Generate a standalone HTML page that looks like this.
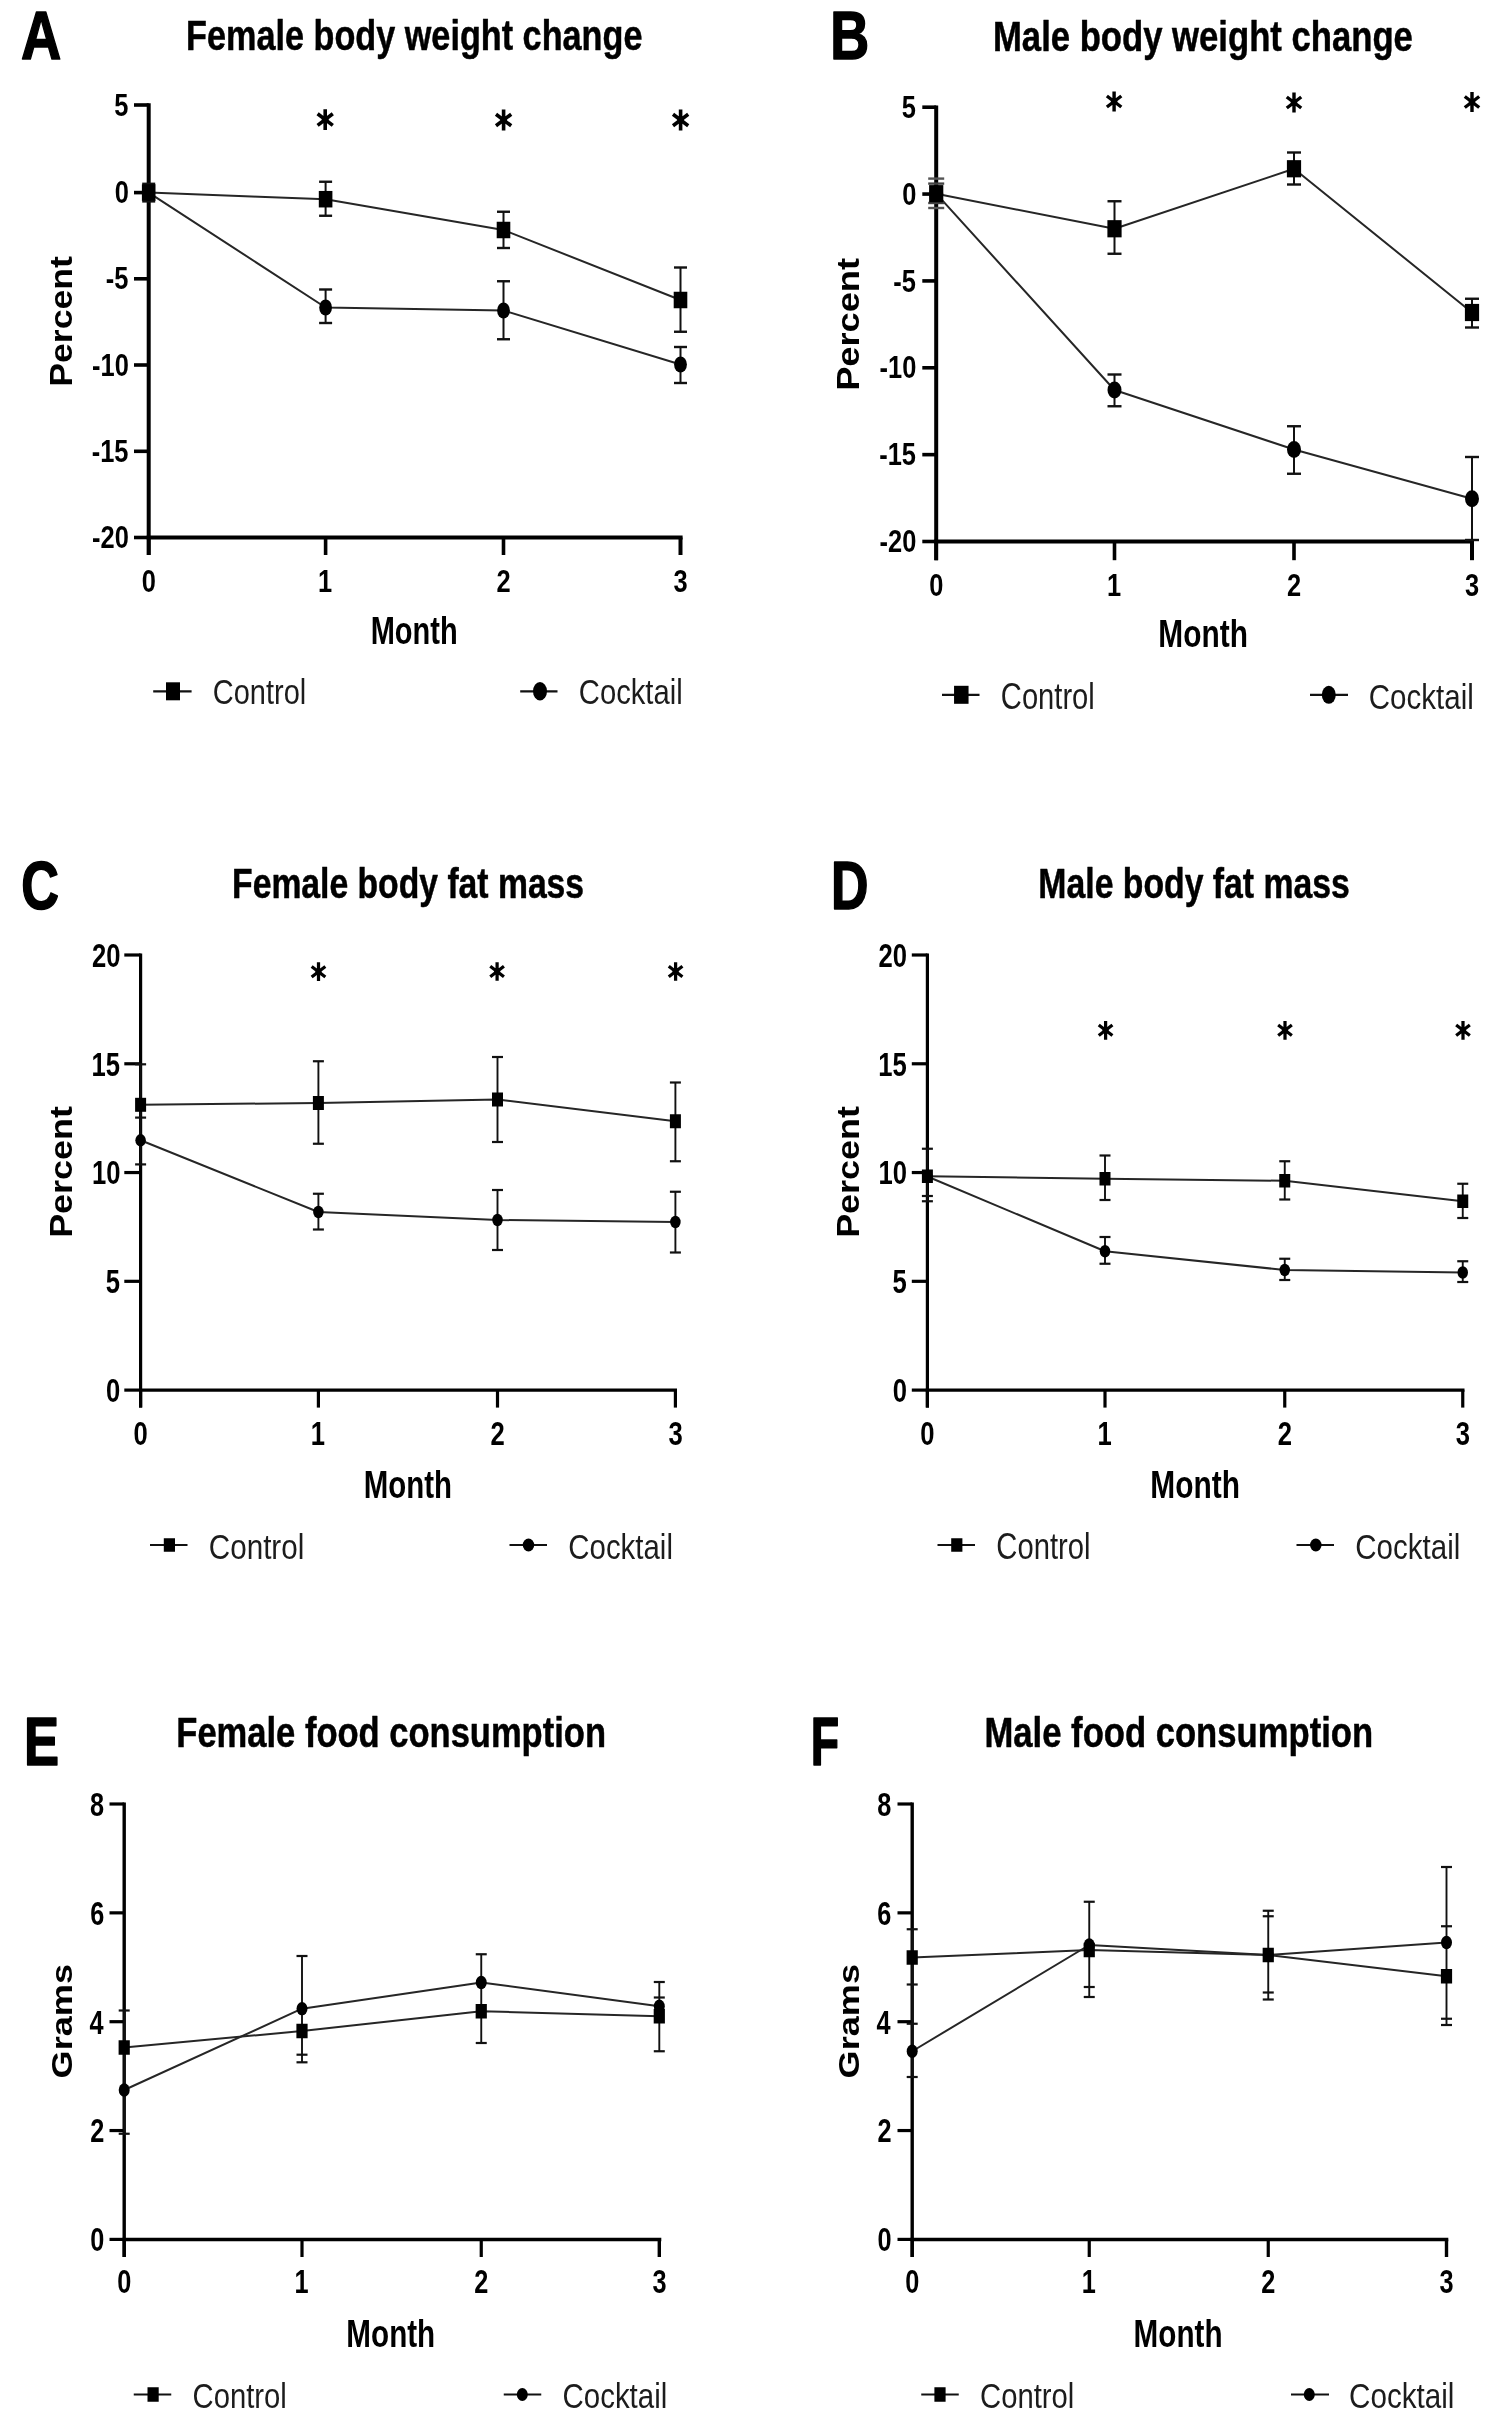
<!DOCTYPE html>
<html><head><meta charset="utf-8"><title>Body weight, fat mass and food consumption</title>
<style>
html,body{margin:0;padding:0;background:#fff;}
svg{display:block;filter:blur(0.55px);}
text{font-family:"Liberation Sans",sans-serif;}
</style></head>
<body>
<svg width="1499" height="2432" viewBox="0 0 1499 2432">
<rect width="1499" height="2432" fill="#fff"/>
<line x1="148.70" y1="103.30" x2="148.70" y2="555.00" stroke="#000" stroke-width="4.0" stroke-linecap="butt"/>
<line x1="146.70" y1="537.50" x2="682.60" y2="537.50" stroke="#000" stroke-width="4.0" stroke-linecap="butt"/>
<line x1="134.00" y1="105.00" x2="148.70" y2="105.00" stroke="#000" stroke-width="3.6" stroke-linecap="butt"/>
<line x1="134.00" y1="192.60" x2="148.70" y2="192.60" stroke="#000" stroke-width="3.6" stroke-linecap="butt"/>
<line x1="134.00" y1="278.80" x2="148.70" y2="278.80" stroke="#000" stroke-width="3.6" stroke-linecap="butt"/>
<line x1="134.00" y1="365.00" x2="148.70" y2="365.00" stroke="#000" stroke-width="3.6" stroke-linecap="butt"/>
<line x1="134.00" y1="451.30" x2="148.70" y2="451.30" stroke="#000" stroke-width="3.6" stroke-linecap="butt"/>
<line x1="134.00" y1="537.50" x2="148.70" y2="537.50" stroke="#000" stroke-width="3.6" stroke-linecap="butt"/>
<line x1="148.70" y1="537.50" x2="148.70" y2="555.00" stroke="#000" stroke-width="3.6" stroke-linecap="butt"/>
<line x1="325.60" y1="537.50" x2="325.60" y2="555.00" stroke="#000" stroke-width="3.6" stroke-linecap="butt"/>
<line x1="503.50" y1="537.50" x2="503.50" y2="555.00" stroke="#000" stroke-width="3.6" stroke-linecap="butt"/>
<line x1="680.50" y1="537.50" x2="680.50" y2="555.00" stroke="#000" stroke-width="4.0" stroke-linecap="butt"/>
<text transform="translate(114.32,115.60) scale(0.7950,1)" font-size="32.00" font-weight="bold" fill="#000">5</text>
<text transform="translate(114.70,203.20) scale(0.7950,1)" font-size="32.00" font-weight="bold" fill="#000">0</text>
<text transform="translate(105.79,289.40) scale(0.7950,1)" font-size="32.00" font-weight="bold" fill="#000">-5</text>
<text transform="translate(92.06,375.60) scale(0.7950,1)" font-size="32.00" font-weight="bold" fill="#000">-10</text>
<text transform="translate(91.68,461.90) scale(0.7950,1)" font-size="32.00" font-weight="bold" fill="#000">-15</text>
<text transform="translate(92.06,548.10) scale(0.7950,1)" font-size="32.00" font-weight="bold" fill="#000">-20</text>
<text transform="translate(141.64,592.30) scale(0.7950,1)" font-size="32.00" font-weight="bold" fill="#000">0</text>
<text transform="translate(318.10,592.30) scale(0.7950,1)" font-size="32.00" font-weight="bold" fill="#000">1</text>
<text transform="translate(496.50,592.30) scale(0.7950,1)" font-size="32.00" font-weight="bold" fill="#000">2</text>
<text transform="translate(673.57,592.30) scale(0.7950,1)" font-size="32.00" font-weight="bold" fill="#000">3</text>
<polyline points="148.70,192.60 325.60,199.20 503.50,230.00 680.50,300.00" fill="none" stroke="#262626" stroke-width="2.0" stroke-linejoin="round"/>
<polyline points="148.70,192.60 325.60,307.50 503.50,310.50 680.50,364.50" fill="none" stroke="#262626" stroke-width="2.0" stroke-linejoin="round"/>
<line x1="325.60" y1="181.75" x2="325.60" y2="215.75" stroke="#111" stroke-width="2.0" stroke-linecap="butt"/>
<line x1="325.60" y1="289.50" x2="325.60" y2="323.00" stroke="#111" stroke-width="2.0" stroke-linecap="butt"/>
<line x1="503.50" y1="211.75" x2="503.50" y2="248.00" stroke="#111" stroke-width="2.0" stroke-linecap="butt"/>
<line x1="503.50" y1="281.25" x2="503.50" y2="339.25" stroke="#111" stroke-width="2.0" stroke-linecap="butt"/>
<line x1="680.50" y1="267.50" x2="680.50" y2="331.75" stroke="#111" stroke-width="2.0" stroke-linecap="butt"/>
<line x1="680.50" y1="347.00" x2="680.50" y2="383.00" stroke="#111" stroke-width="2.0" stroke-linecap="butt"/>
<line x1="319.10" y1="181.75" x2="332.10" y2="181.75" stroke="#111" stroke-width="2.4" stroke-linecap="butt"/>
<line x1="319.10" y1="215.75" x2="332.10" y2="215.75" stroke="#111" stroke-width="2.4" stroke-linecap="butt"/>
<line x1="319.10" y1="289.50" x2="332.10" y2="289.50" stroke="#111" stroke-width="2.4" stroke-linecap="butt"/>
<line x1="319.10" y1="323.00" x2="332.10" y2="323.00" stroke="#111" stroke-width="2.4" stroke-linecap="butt"/>
<line x1="497.00" y1="211.75" x2="510.00" y2="211.75" stroke="#111" stroke-width="2.4" stroke-linecap="butt"/>
<line x1="497.00" y1="248.00" x2="510.00" y2="248.00" stroke="#111" stroke-width="2.4" stroke-linecap="butt"/>
<line x1="497.00" y1="281.25" x2="510.00" y2="281.25" stroke="#111" stroke-width="2.4" stroke-linecap="butt"/>
<line x1="497.00" y1="339.25" x2="510.00" y2="339.25" stroke="#111" stroke-width="2.4" stroke-linecap="butt"/>
<line x1="674.00" y1="267.50" x2="687.00" y2="267.50" stroke="#111" stroke-width="2.4" stroke-linecap="butt"/>
<line x1="674.00" y1="331.75" x2="687.00" y2="331.75" stroke="#111" stroke-width="2.4" stroke-linecap="butt"/>
<line x1="674.00" y1="347.00" x2="687.00" y2="347.00" stroke="#111" stroke-width="2.4" stroke-linecap="butt"/>
<line x1="674.00" y1="383.00" x2="687.00" y2="383.00" stroke="#111" stroke-width="2.4" stroke-linecap="butt"/>
<line x1="142.20" y1="183.80" x2="155.20" y2="183.80" stroke="#111" stroke-width="2.4" stroke-linecap="butt"/>
<line x1="142.20" y1="201.40" x2="155.20" y2="201.40" stroke="#111" stroke-width="2.4" stroke-linecap="butt"/>
<ellipse cx="148.70" cy="192.60" rx="6.40" ry="8.00" fill="#000"/>
<ellipse cx="325.60" cy="307.50" rx="6.40" ry="8.00" fill="#000"/>
<ellipse cx="503.50" cy="310.50" rx="6.40" ry="8.00" fill="#000"/>
<ellipse cx="680.50" cy="364.50" rx="6.40" ry="8.00" fill="#000"/>
<rect x="141.90" y="184.35" width="13.60" height="16.50" fill="#000"/>
<rect x="318.80" y="190.95" width="13.60" height="16.50" fill="#000"/>
<rect x="496.70" y="221.75" width="13.60" height="16.50" fill="#000"/>
<rect x="673.70" y="291.75" width="13.60" height="16.50" fill="#000"/>
<path d="M325.20,109.20V130.00M317.60,113.80L332.80,125.40M317.60,125.40L332.80,113.80" stroke="#000" stroke-width="3.60" fill="none"/>
<circle cx="325.20" cy="119.60" r="3.40" fill="#000"/>
<path d="M503.60,109.60V130.40M496.00,114.20L511.20,125.80M496.00,125.80L511.20,114.20" stroke="#000" stroke-width="3.60" fill="none"/>
<circle cx="503.60" cy="120.00" r="3.40" fill="#000"/>
<path d="M680.60,109.60V130.40M673.00,114.20L688.20,125.80M673.00,125.80L688.20,114.20" stroke="#000" stroke-width="3.60" fill="none"/>
<circle cx="680.60" cy="120.00" r="3.40" fill="#000"/>
<text transform="translate(186.03,50.00) scale(0.8054,1)" font-size="42.50" font-weight="bold" fill="#000" stroke="#000" stroke-width="0.5" stroke-linejoin="round">Female body weight change</text>
<text transform="translate(20.90,58.70) scale(0.8041,1)" font-size="69.42" font-weight="bold" fill="#000" stroke="#000" stroke-width="1.6" stroke-linejoin="round">A</text>
<text transform="translate(71.69,386.82) rotate(-90) scale(1.1608,1)" font-size="30.71" font-weight="bold" fill="#000">Percent</text>
<text transform="translate(370.71,644.30) scale(0.7634,1)" font-size="38.00" font-weight="bold" fill="#000">Month</text>
<line x1="153.20" y1="691.30" x2="191.60" y2="691.30" stroke="#111" stroke-width="2.3" stroke-linecap="butt"/>
<rect x="166.00" y="682.30" width="14.00" height="18.00" fill="#000"/>
<text transform="translate(212.85,703.90) scale(0.8043,1)" font-size="36.00" font-weight="normal" fill="#1c1c1c">Control</text>
<line x1="520.20" y1="691.30" x2="557.50" y2="691.30" stroke="#111" stroke-width="2.3" stroke-linecap="butt"/>
<ellipse cx="540.00" cy="691.30" rx="7.00" ry="9.25" fill="#000"/>
<text transform="translate(578.84,703.90) scale(0.8115,1)" font-size="36.00" font-weight="normal" fill="#1c1c1c">Cocktail</text>
<line x1="936.20" y1="105.40" x2="936.20" y2="560.20" stroke="#000" stroke-width="4.0" stroke-linecap="butt"/>
<line x1="934.20" y1="541.50" x2="1474.00" y2="541.50" stroke="#000" stroke-width="4.0" stroke-linecap="butt"/>
<line x1="922.30" y1="107.20" x2="936.20" y2="107.20" stroke="#000" stroke-width="3.6" stroke-linecap="butt"/>
<line x1="922.30" y1="194.06" x2="936.20" y2="194.06" stroke="#000" stroke-width="3.6" stroke-linecap="butt"/>
<line x1="922.30" y1="280.92" x2="936.20" y2="280.92" stroke="#000" stroke-width="3.6" stroke-linecap="butt"/>
<line x1="922.30" y1="367.78" x2="936.20" y2="367.78" stroke="#000" stroke-width="3.6" stroke-linecap="butt"/>
<line x1="922.30" y1="454.64" x2="936.20" y2="454.64" stroke="#000" stroke-width="3.6" stroke-linecap="butt"/>
<line x1="922.30" y1="541.50" x2="936.20" y2="541.50" stroke="#000" stroke-width="3.6" stroke-linecap="butt"/>
<line x1="936.20" y1="541.50" x2="936.20" y2="560.20" stroke="#000" stroke-width="3.6" stroke-linecap="butt"/>
<line x1="1114.50" y1="541.50" x2="1114.50" y2="560.20" stroke="#000" stroke-width="3.6" stroke-linecap="butt"/>
<line x1="1294.00" y1="541.50" x2="1294.00" y2="560.20" stroke="#000" stroke-width="3.6" stroke-linecap="butt"/>
<line x1="1472.00" y1="541.50" x2="1472.00" y2="560.20" stroke="#000" stroke-width="4.0" stroke-linecap="butt"/>
<text transform="translate(901.82,117.90) scale(0.7950,1)" font-size="32.00" font-weight="bold" fill="#000">5</text>
<text transform="translate(902.20,204.76) scale(0.7950,1)" font-size="32.00" font-weight="bold" fill="#000">0</text>
<text transform="translate(893.29,291.62) scale(0.7950,1)" font-size="32.00" font-weight="bold" fill="#000">-5</text>
<text transform="translate(879.56,378.48) scale(0.7950,1)" font-size="32.00" font-weight="bold" fill="#000">-10</text>
<text transform="translate(879.18,465.34) scale(0.7950,1)" font-size="32.00" font-weight="bold" fill="#000">-15</text>
<text transform="translate(879.56,552.20) scale(0.7950,1)" font-size="32.00" font-weight="bold" fill="#000">-20</text>
<text transform="translate(929.14,596.00) scale(0.7950,1)" font-size="32.00" font-weight="bold" fill="#000">0</text>
<text transform="translate(1107.00,596.00) scale(0.7950,1)" font-size="32.00" font-weight="bold" fill="#000">1</text>
<text transform="translate(1287.00,596.00) scale(0.7950,1)" font-size="32.00" font-weight="bold" fill="#000">2</text>
<text transform="translate(1465.07,596.00) scale(0.7950,1)" font-size="32.00" font-weight="bold" fill="#000">3</text>
<polyline points="936.20,193.70 1114.50,228.75 1294.00,168.75 1472.00,312.50" fill="none" stroke="#262626" stroke-width="2.0" stroke-linejoin="round"/>
<polyline points="936.20,193.70 1114.50,390.00 1294.00,449.50 1472.00,498.75" fill="none" stroke="#262626" stroke-width="2.0" stroke-linejoin="round"/>
<line x1="1114.50" y1="201.25" x2="1114.50" y2="253.75" stroke="#111" stroke-width="2.0" stroke-linecap="butt"/>
<line x1="1114.50" y1="374.50" x2="1114.50" y2="406.25" stroke="#111" stroke-width="2.0" stroke-linecap="butt"/>
<line x1="1294.00" y1="152.50" x2="1294.00" y2="184.50" stroke="#111" stroke-width="2.0" stroke-linecap="butt"/>
<line x1="1294.00" y1="426.25" x2="1294.00" y2="473.75" stroke="#111" stroke-width="2.0" stroke-linecap="butt"/>
<line x1="1472.00" y1="298.75" x2="1472.00" y2="327.50" stroke="#111" stroke-width="2.0" stroke-linecap="butt"/>
<line x1="1472.00" y1="457.00" x2="1472.00" y2="540.00" stroke="#111" stroke-width="2.0" stroke-linecap="butt"/>
<line x1="1107.50" y1="201.25" x2="1121.50" y2="201.25" stroke="#111" stroke-width="2.4" stroke-linecap="butt"/>
<line x1="1107.50" y1="253.75" x2="1121.50" y2="253.75" stroke="#111" stroke-width="2.4" stroke-linecap="butt"/>
<line x1="1107.50" y1="374.50" x2="1121.50" y2="374.50" stroke="#111" stroke-width="2.4" stroke-linecap="butt"/>
<line x1="1107.50" y1="406.25" x2="1121.50" y2="406.25" stroke="#111" stroke-width="2.4" stroke-linecap="butt"/>
<line x1="1287.00" y1="152.50" x2="1301.00" y2="152.50" stroke="#111" stroke-width="2.4" stroke-linecap="butt"/>
<line x1="1287.00" y1="184.50" x2="1301.00" y2="184.50" stroke="#111" stroke-width="2.4" stroke-linecap="butt"/>
<line x1="1287.00" y1="426.25" x2="1301.00" y2="426.25" stroke="#111" stroke-width="2.4" stroke-linecap="butt"/>
<line x1="1287.00" y1="473.75" x2="1301.00" y2="473.75" stroke="#111" stroke-width="2.4" stroke-linecap="butt"/>
<line x1="1465.00" y1="298.75" x2="1479.00" y2="298.75" stroke="#111" stroke-width="2.4" stroke-linecap="butt"/>
<line x1="1465.00" y1="327.50" x2="1479.00" y2="327.50" stroke="#111" stroke-width="2.4" stroke-linecap="butt"/>
<line x1="1465.00" y1="457.00" x2="1479.00" y2="457.00" stroke="#111" stroke-width="2.4" stroke-linecap="butt"/>
<line x1="1465.00" y1="540.00" x2="1479.00" y2="540.00" stroke="#111" stroke-width="2.4" stroke-linecap="butt"/>
<line x1="928.20" y1="178.60" x2="944.20" y2="178.60" stroke="#555" stroke-width="2.4" stroke-linecap="butt"/>
<line x1="928.20" y1="183.60" x2="944.20" y2="183.60" stroke="#444" stroke-width="2.4" stroke-linecap="butt"/>
<line x1="928.20" y1="203.00" x2="944.20" y2="203.00" stroke="#444" stroke-width="2.4" stroke-linecap="butt"/>
<line x1="928.20" y1="208.00" x2="944.20" y2="208.00" stroke="#555" stroke-width="2.4" stroke-linecap="butt"/>
<ellipse cx="936.20" cy="193.70" rx="7.00" ry="8.40" fill="#000"/>
<ellipse cx="1114.50" cy="390.00" rx="7.00" ry="8.40" fill="#000"/>
<ellipse cx="1294.00" cy="449.50" rx="7.00" ry="8.40" fill="#000"/>
<ellipse cx="1472.00" cy="498.75" rx="7.00" ry="8.40" fill="#000"/>
<rect x="929.10" y="185.10" width="14.20" height="17.20" fill="#000"/>
<rect x="1107.40" y="220.15" width="14.20" height="17.20" fill="#000"/>
<rect x="1286.90" y="160.15" width="14.20" height="17.20" fill="#000"/>
<rect x="1464.90" y="303.90" width="14.20" height="17.20" fill="#000"/>
<path d="M1114.10,91.62V111.38M1106.88,95.99L1121.32,107.01M1106.88,107.01L1121.32,95.99" stroke="#000" stroke-width="3.42" fill="none"/>
<circle cx="1114.10" cy="101.50" r="3.23" fill="#000"/>
<path d="M1294.00,92.62V112.38M1286.78,96.99L1301.22,108.01M1286.78,108.01L1301.22,96.99" stroke="#000" stroke-width="3.42" fill="none"/>
<circle cx="1294.00" cy="102.50" r="3.23" fill="#000"/>
<path d="M1472.00,92.12V111.88M1464.78,96.49L1479.22,107.51M1464.78,107.51L1479.22,96.49" stroke="#000" stroke-width="3.42" fill="none"/>
<circle cx="1472.00" cy="102.00" r="3.23" fill="#000"/>
<text transform="translate(993.00,50.70) scale(0.8160,1)" font-size="42.50" font-weight="bold" fill="#000" stroke="#000" stroke-width="0.5" stroke-linejoin="round">Male body weight change</text>
<text transform="translate(830.29,58.70) scale(0.7769,1)" font-size="69.42" font-weight="bold" fill="#000" stroke="#000" stroke-width="1.6" stroke-linejoin="round">B</text>
<text transform="translate(859.00,390.85) rotate(-90) scale(1.1901,1)" font-size="30.43" font-weight="bold" fill="#000">Percent</text>
<text transform="translate(1158.36,647.20) scale(0.7863,1)" font-size="38.00" font-weight="bold" fill="#000">Month</text>
<line x1="942.00" y1="694.80" x2="979.50" y2="694.80" stroke="#111" stroke-width="2.3" stroke-linecap="butt"/>
<rect x="954.05" y="685.80" width="14.50" height="18.00" fill="#000"/>
<text transform="translate(1000.84,708.50) scale(0.8096,1)" font-size="36.00" font-weight="normal" fill="#1c1c1c">Control</text>
<line x1="1310.00" y1="694.80" x2="1348.00" y2="694.80" stroke="#111" stroke-width="2.3" stroke-linecap="butt"/>
<ellipse cx="1328.80" cy="694.80" rx="7.00" ry="9.00" fill="#000"/>
<text transform="translate(1368.82,708.50) scale(0.8196,1)" font-size="36.00" font-weight="normal" fill="#1c1c1c">Cocktail</text>
<line x1="140.60" y1="953.40" x2="140.60" y2="1407.60" stroke="#000" stroke-width="3.2" stroke-linecap="butt"/>
<line x1="139.00" y1="1390.10" x2="677.00" y2="1390.10" stroke="#000" stroke-width="3.2" stroke-linecap="butt"/>
<line x1="124.30" y1="955.00" x2="140.60" y2="955.00" stroke="#000" stroke-width="3.2" stroke-linecap="butt"/>
<line x1="124.30" y1="1063.78" x2="140.60" y2="1063.78" stroke="#000" stroke-width="3.2" stroke-linecap="butt"/>
<line x1="124.30" y1="1172.55" x2="140.60" y2="1172.55" stroke="#000" stroke-width="3.2" stroke-linecap="butt"/>
<line x1="124.30" y1="1281.32" x2="140.60" y2="1281.32" stroke="#000" stroke-width="3.2" stroke-linecap="butt"/>
<line x1="124.30" y1="1390.10" x2="140.60" y2="1390.10" stroke="#000" stroke-width="3.2" stroke-linecap="butt"/>
<line x1="140.60" y1="1390.10" x2="140.60" y2="1407.60" stroke="#000" stroke-width="3.2" stroke-linecap="butt"/>
<line x1="318.40" y1="1390.10" x2="318.40" y2="1407.60" stroke="#000" stroke-width="3.2" stroke-linecap="butt"/>
<line x1="497.50" y1="1390.10" x2="497.50" y2="1407.60" stroke="#000" stroke-width="3.2" stroke-linecap="butt"/>
<line x1="675.40" y1="1390.10" x2="675.40" y2="1407.60" stroke="#000" stroke-width="3.2" stroke-linecap="butt"/>
<text transform="translate(91.90,966.90) scale(0.7760,1)" font-size="33.00" font-weight="bold" fill="#000">20</text>
<text transform="translate(91.52,1075.68) scale(0.7760,1)" font-size="33.00" font-weight="bold" fill="#000">15</text>
<text transform="translate(91.90,1184.45) scale(0.7760,1)" font-size="33.00" font-weight="bold" fill="#000">10</text>
<text transform="translate(105.73,1293.22) scale(0.7760,1)" font-size="33.00" font-weight="bold" fill="#000">5</text>
<text transform="translate(106.11,1402.00) scale(0.7760,1)" font-size="33.00" font-weight="bold" fill="#000">0</text>
<text transform="translate(133.49,1444.80) scale(0.7760,1)" font-size="33.00" font-weight="bold" fill="#000">0</text>
<text transform="translate(310.85,1444.80) scale(0.7760,1)" font-size="33.00" font-weight="bold" fill="#000">1</text>
<text transform="translate(490.46,1444.80) scale(0.7760,1)" font-size="33.00" font-weight="bold" fill="#000">2</text>
<text transform="translate(668.42,1444.80) scale(0.7760,1)" font-size="33.00" font-weight="bold" fill="#000">3</text>
<polyline points="140.60,1104.80 318.40,1103.00 497.50,1099.50 675.40,1121.25" fill="none" stroke="#262626" stroke-width="2.0" stroke-linejoin="round"/>
<polyline points="140.60,1140.30 318.40,1212.00 497.50,1220.00 675.40,1222.00" fill="none" stroke="#262626" stroke-width="2.0" stroke-linejoin="round"/>
<line x1="140.60" y1="1064.30" x2="140.60" y2="1164.40" stroke="#111" stroke-width="1.9" stroke-linecap="butt"/>
<line x1="318.40" y1="1061.25" x2="318.40" y2="1143.75" stroke="#111" stroke-width="1.9" stroke-linecap="butt"/>
<line x1="318.40" y1="1193.75" x2="318.40" y2="1229.50" stroke="#111" stroke-width="1.9" stroke-linecap="butt"/>
<line x1="497.50" y1="1057.00" x2="497.50" y2="1142.00" stroke="#111" stroke-width="1.9" stroke-linecap="butt"/>
<line x1="497.50" y1="1190.00" x2="497.50" y2="1250.00" stroke="#111" stroke-width="1.9" stroke-linecap="butt"/>
<line x1="675.40" y1="1082.50" x2="675.40" y2="1161.25" stroke="#111" stroke-width="1.9" stroke-linecap="butt"/>
<line x1="675.40" y1="1191.75" x2="675.40" y2="1252.50" stroke="#111" stroke-width="1.9" stroke-linecap="butt"/>
<line x1="135.10" y1="1064.30" x2="146.10" y2="1064.30" stroke="#111" stroke-width="2.2" stroke-linecap="butt"/>
<line x1="135.10" y1="1117.60" x2="146.10" y2="1117.60" stroke="#111" stroke-width="2.2" stroke-linecap="butt"/>
<line x1="135.10" y1="1164.40" x2="146.10" y2="1164.40" stroke="#111" stroke-width="2.2" stroke-linecap="butt"/>
<line x1="312.90" y1="1061.25" x2="323.90" y2="1061.25" stroke="#111" stroke-width="2.2" stroke-linecap="butt"/>
<line x1="312.90" y1="1143.75" x2="323.90" y2="1143.75" stroke="#111" stroke-width="2.2" stroke-linecap="butt"/>
<line x1="312.90" y1="1193.75" x2="323.90" y2="1193.75" stroke="#111" stroke-width="2.2" stroke-linecap="butt"/>
<line x1="312.90" y1="1229.50" x2="323.90" y2="1229.50" stroke="#111" stroke-width="2.2" stroke-linecap="butt"/>
<line x1="492.00" y1="1057.00" x2="503.00" y2="1057.00" stroke="#111" stroke-width="2.2" stroke-linecap="butt"/>
<line x1="492.00" y1="1142.00" x2="503.00" y2="1142.00" stroke="#111" stroke-width="2.2" stroke-linecap="butt"/>
<line x1="492.00" y1="1190.00" x2="503.00" y2="1190.00" stroke="#111" stroke-width="2.2" stroke-linecap="butt"/>
<line x1="492.00" y1="1250.00" x2="503.00" y2="1250.00" stroke="#111" stroke-width="2.2" stroke-linecap="butt"/>
<line x1="669.90" y1="1082.50" x2="680.90" y2="1082.50" stroke="#111" stroke-width="2.2" stroke-linecap="butt"/>
<line x1="669.90" y1="1161.25" x2="680.90" y2="1161.25" stroke="#111" stroke-width="2.2" stroke-linecap="butt"/>
<line x1="669.90" y1="1191.75" x2="680.90" y2="1191.75" stroke="#111" stroke-width="2.2" stroke-linecap="butt"/>
<line x1="669.90" y1="1252.50" x2="680.90" y2="1252.50" stroke="#111" stroke-width="2.2" stroke-linecap="butt"/>
<ellipse cx="140.60" cy="1140.30" rx="5.25" ry="6.25" fill="#000"/>
<ellipse cx="318.40" cy="1212.00" rx="5.25" ry="6.25" fill="#000"/>
<ellipse cx="497.50" cy="1220.00" rx="5.25" ry="6.25" fill="#000"/>
<ellipse cx="675.40" cy="1222.00" rx="5.25" ry="6.25" fill="#000"/>
<rect x="135.10" y="1097.80" width="11.00" height="14.00" fill="#000"/>
<rect x="312.90" y="1096.00" width="11.00" height="14.00" fill="#000"/>
<rect x="492.00" y="1092.50" width="11.00" height="14.00" fill="#000"/>
<rect x="669.90" y="1114.25" width="11.00" height="14.00" fill="#000"/>
<path d="M318.50,962.34V981.06M311.66,966.48L325.34,976.92M311.66,976.92L325.34,966.48" stroke="#000" stroke-width="3.24" fill="none"/>
<circle cx="318.50" cy="971.70" r="3.06" fill="#000"/>
<path d="M497.10,962.14V980.86M490.26,966.28L503.94,976.72M490.26,976.72L503.94,966.28" stroke="#000" stroke-width="3.24" fill="none"/>
<circle cx="497.10" cy="971.50" r="3.06" fill="#000"/>
<path d="M675.60,962.14V980.86M668.76,966.28L682.44,976.72M668.76,976.72L682.44,966.28" stroke="#000" stroke-width="3.24" fill="none"/>
<circle cx="675.60" cy="971.50" r="3.06" fill="#000"/>
<text transform="translate(232.06,898.00) scale(0.7930,1)" font-size="42.50" font-weight="bold" fill="#000" stroke="#000" stroke-width="0.5" stroke-linejoin="round">Female body fat mass</text>
<text transform="translate(21.21,909.31) scale(0.7535,1)" font-size="69.30" font-weight="bold" fill="#000" stroke="#000" stroke-width="1.6" stroke-linejoin="round">C</text>
<text transform="translate(71.69,1237.84) rotate(-90) scale(1.1699,1)" font-size="30.71" font-weight="bold" fill="#000">Percent</text>
<text transform="translate(363.69,1498.10) scale(0.7753,1)" font-size="38.00" font-weight="bold" fill="#000">Month</text>
<line x1="150.00" y1="1545.00" x2="187.50" y2="1545.00" stroke="#111" stroke-width="2.2" stroke-linecap="butt"/>
<rect x="163.80" y="1538.25" width="11.20" height="13.50" fill="#000"/>
<text transform="translate(208.82,1558.60) scale(0.8230,1)" font-size="36.00" font-weight="normal" fill="#1c1c1c">Control</text>
<line x1="509.50" y1="1545.00" x2="547.00" y2="1545.00" stroke="#111" stroke-width="2.2" stroke-linecap="butt"/>
<ellipse cx="528.50" cy="1545.00" rx="5.75" ry="6.50" fill="#000"/>
<text transform="translate(568.33,1558.60) scale(0.8172,1)" font-size="36.00" font-weight="normal" fill="#1c1c1c">Cocktail</text>
<line x1="927.40" y1="953.40" x2="927.40" y2="1407.60" stroke="#000" stroke-width="3.2" stroke-linecap="butt"/>
<line x1="925.80" y1="1390.10" x2="1464.50" y2="1390.10" stroke="#000" stroke-width="3.2" stroke-linecap="butt"/>
<line x1="911.80" y1="955.00" x2="927.40" y2="955.00" stroke="#000" stroke-width="3.2" stroke-linecap="butt"/>
<line x1="911.80" y1="1063.78" x2="927.40" y2="1063.78" stroke="#000" stroke-width="3.2" stroke-linecap="butt"/>
<line x1="911.80" y1="1172.55" x2="927.40" y2="1172.55" stroke="#000" stroke-width="3.2" stroke-linecap="butt"/>
<line x1="911.80" y1="1281.32" x2="927.40" y2="1281.32" stroke="#000" stroke-width="3.2" stroke-linecap="butt"/>
<line x1="911.80" y1="1390.10" x2="927.40" y2="1390.10" stroke="#000" stroke-width="3.2" stroke-linecap="butt"/>
<line x1="927.40" y1="1390.10" x2="927.40" y2="1407.60" stroke="#000" stroke-width="3.2" stroke-linecap="butt"/>
<line x1="1105.00" y1="1390.10" x2="1105.00" y2="1407.60" stroke="#000" stroke-width="3.2" stroke-linecap="butt"/>
<line x1="1284.75" y1="1390.10" x2="1284.75" y2="1407.60" stroke="#000" stroke-width="3.2" stroke-linecap="butt"/>
<line x1="1462.75" y1="1390.10" x2="1462.75" y2="1407.60" stroke="#000" stroke-width="3.2" stroke-linecap="butt"/>
<text transform="translate(878.60,966.90) scale(0.7760,1)" font-size="33.00" font-weight="bold" fill="#000">20</text>
<text transform="translate(878.22,1075.68) scale(0.7760,1)" font-size="33.00" font-weight="bold" fill="#000">15</text>
<text transform="translate(878.60,1184.45) scale(0.7760,1)" font-size="33.00" font-weight="bold" fill="#000">10</text>
<text transform="translate(892.43,1293.22) scale(0.7760,1)" font-size="33.00" font-weight="bold" fill="#000">5</text>
<text transform="translate(892.81,1402.00) scale(0.7760,1)" font-size="33.00" font-weight="bold" fill="#000">0</text>
<text transform="translate(920.29,1444.80) scale(0.7760,1)" font-size="33.00" font-weight="bold" fill="#000">0</text>
<text transform="translate(1097.45,1444.80) scale(0.7760,1)" font-size="33.00" font-weight="bold" fill="#000">1</text>
<text transform="translate(1277.71,1444.80) scale(0.7760,1)" font-size="33.00" font-weight="bold" fill="#000">2</text>
<text transform="translate(1455.77,1444.80) scale(0.7760,1)" font-size="33.00" font-weight="bold" fill="#000">3</text>
<polyline points="927.40,1176.25 1105.00,1178.75 1284.75,1180.75 1462.75,1201.25" fill="none" stroke="#262626" stroke-width="2.0" stroke-linejoin="round"/>
<polyline points="927.40,1176.50 1105.00,1251.25 1284.75,1270.00 1462.75,1272.50" fill="none" stroke="#262626" stroke-width="2.0" stroke-linejoin="round"/>
<line x1="927.40" y1="1148.75" x2="927.40" y2="1201.25" stroke="#111" stroke-width="1.9" stroke-linecap="butt"/>
<line x1="1105.00" y1="1155.50" x2="1105.00" y2="1200.00" stroke="#111" stroke-width="1.9" stroke-linecap="butt"/>
<line x1="1105.00" y1="1237.00" x2="1105.00" y2="1263.75" stroke="#111" stroke-width="1.9" stroke-linecap="butt"/>
<line x1="1284.75" y1="1161.25" x2="1284.75" y2="1199.50" stroke="#111" stroke-width="1.9" stroke-linecap="butt"/>
<line x1="1284.75" y1="1258.75" x2="1284.75" y2="1280.00" stroke="#111" stroke-width="1.9" stroke-linecap="butt"/>
<line x1="1462.75" y1="1183.75" x2="1462.75" y2="1218.00" stroke="#111" stroke-width="1.9" stroke-linecap="butt"/>
<line x1="1462.75" y1="1261.25" x2="1462.75" y2="1282.00" stroke="#111" stroke-width="1.9" stroke-linecap="butt"/>
<line x1="921.90" y1="1148.75" x2="932.90" y2="1148.75" stroke="#111" stroke-width="2.2" stroke-linecap="butt"/>
<line x1="921.90" y1="1196.00" x2="932.90" y2="1196.00" stroke="#111" stroke-width="2.2" stroke-linecap="butt"/>
<line x1="921.90" y1="1201.25" x2="932.90" y2="1201.25" stroke="#111" stroke-width="2.2" stroke-linecap="butt"/>
<line x1="1099.50" y1="1155.50" x2="1110.50" y2="1155.50" stroke="#111" stroke-width="2.2" stroke-linecap="butt"/>
<line x1="1099.50" y1="1200.00" x2="1110.50" y2="1200.00" stroke="#111" stroke-width="2.2" stroke-linecap="butt"/>
<line x1="1099.50" y1="1237.00" x2="1110.50" y2="1237.00" stroke="#111" stroke-width="2.2" stroke-linecap="butt"/>
<line x1="1099.50" y1="1263.75" x2="1110.50" y2="1263.75" stroke="#111" stroke-width="2.2" stroke-linecap="butt"/>
<line x1="1279.25" y1="1161.25" x2="1290.25" y2="1161.25" stroke="#111" stroke-width="2.2" stroke-linecap="butt"/>
<line x1="1279.25" y1="1199.50" x2="1290.25" y2="1199.50" stroke="#111" stroke-width="2.2" stroke-linecap="butt"/>
<line x1="1279.25" y1="1258.75" x2="1290.25" y2="1258.75" stroke="#111" stroke-width="2.2" stroke-linecap="butt"/>
<line x1="1279.25" y1="1280.00" x2="1290.25" y2="1280.00" stroke="#111" stroke-width="2.2" stroke-linecap="butt"/>
<line x1="1457.25" y1="1183.75" x2="1468.25" y2="1183.75" stroke="#111" stroke-width="2.2" stroke-linecap="butt"/>
<line x1="1457.25" y1="1218.00" x2="1468.25" y2="1218.00" stroke="#111" stroke-width="2.2" stroke-linecap="butt"/>
<line x1="1457.25" y1="1261.25" x2="1468.25" y2="1261.25" stroke="#111" stroke-width="2.2" stroke-linecap="butt"/>
<line x1="1457.25" y1="1282.00" x2="1468.25" y2="1282.00" stroke="#111" stroke-width="2.2" stroke-linecap="butt"/>
<ellipse cx="927.40" cy="1176.50" rx="5.25" ry="6.25" fill="#000"/>
<ellipse cx="1105.00" cy="1251.25" rx="5.25" ry="6.25" fill="#000"/>
<ellipse cx="1284.75" cy="1270.00" rx="5.25" ry="6.25" fill="#000"/>
<ellipse cx="1462.75" cy="1272.50" rx="5.25" ry="6.25" fill="#000"/>
<rect x="921.90" y="1169.50" width="11.00" height="13.50" fill="#000"/>
<rect x="1099.50" y="1172.00" width="11.00" height="13.50" fill="#000"/>
<rect x="1279.25" y="1174.00" width="11.00" height="13.50" fill="#000"/>
<rect x="1457.25" y="1194.50" width="11.00" height="13.50" fill="#000"/>
<path d="M1105.60,1020.94V1039.66M1098.76,1025.08L1112.44,1035.52M1098.76,1035.52L1112.44,1025.08" stroke="#000" stroke-width="3.24" fill="none"/>
<circle cx="1105.60" cy="1030.30" r="3.06" fill="#000"/>
<path d="M1285.00,1020.94V1039.66M1278.16,1025.08L1291.84,1035.52M1278.16,1035.52L1291.84,1025.08" stroke="#000" stroke-width="3.24" fill="none"/>
<circle cx="1285.00" cy="1030.30" r="3.06" fill="#000"/>
<path d="M1463.00,1020.94V1039.66M1456.16,1025.08L1469.84,1035.52M1456.16,1035.52L1469.84,1025.08" stroke="#000" stroke-width="3.24" fill="none"/>
<circle cx="1463.00" cy="1030.30" r="3.06" fill="#000"/>
<text transform="translate(1038.36,898.00) scale(0.7944,1)" font-size="42.50" font-weight="bold" fill="#000" stroke="#000" stroke-width="0.5" stroke-linejoin="round">Male body fat mass</text>
<text transform="translate(830.93,909.40) scale(0.7519,1)" font-size="68.99" font-weight="bold" fill="#000" stroke="#000" stroke-width="1.6" stroke-linejoin="round">D</text>
<text transform="translate(859.00,1237.84) rotate(-90) scale(1.1809,1)" font-size="30.43" font-weight="bold" fill="#000">Percent</text>
<text transform="translate(1150.36,1498.30) scale(0.7872,1)" font-size="38.00" font-weight="bold" fill="#000">Month</text>
<line x1="937.50" y1="1545.00" x2="975.00" y2="1545.00" stroke="#111" stroke-width="2.2" stroke-linecap="butt"/>
<rect x="951.20" y="1538.25" width="11.20" height="13.50" fill="#000"/>
<text transform="translate(996.34,1558.60) scale(0.8114,1)" font-size="36.00" font-weight="normal" fill="#1c1c1c">Control</text>
<line x1="1296.50" y1="1545.00" x2="1334.00" y2="1545.00" stroke="#111" stroke-width="2.2" stroke-linecap="butt"/>
<ellipse cx="1315.80" cy="1545.00" rx="5.75" ry="6.50" fill="#000"/>
<text transform="translate(1355.32,1558.60) scale(0.8196,1)" font-size="36.00" font-weight="normal" fill="#1c1c1c">Cocktail</text>
<line x1="124.20" y1="1802.40" x2="124.20" y2="2257.00" stroke="#000" stroke-width="3.4" stroke-linecap="butt"/>
<line x1="122.50" y1="2239.50" x2="661.30" y2="2239.50" stroke="#000" stroke-width="3.4" stroke-linecap="butt"/>
<line x1="109.50" y1="1804.00" x2="124.20" y2="1804.00" stroke="#000" stroke-width="3.2" stroke-linecap="butt"/>
<line x1="109.50" y1="1912.85" x2="124.20" y2="1912.85" stroke="#000" stroke-width="3.2" stroke-linecap="butt"/>
<line x1="109.50" y1="2021.70" x2="124.20" y2="2021.70" stroke="#000" stroke-width="3.2" stroke-linecap="butt"/>
<line x1="109.50" y1="2130.55" x2="124.20" y2="2130.55" stroke="#000" stroke-width="3.2" stroke-linecap="butt"/>
<line x1="109.50" y1="2239.40" x2="124.20" y2="2239.40" stroke="#000" stroke-width="3.2" stroke-linecap="butt"/>
<line x1="124.20" y1="2239.50" x2="124.20" y2="2257.00" stroke="#000" stroke-width="3.2" stroke-linecap="butt"/>
<line x1="302.00" y1="2239.50" x2="302.00" y2="2257.00" stroke="#000" stroke-width="3.2" stroke-linecap="butt"/>
<line x1="481.25" y1="2239.50" x2="481.25" y2="2257.00" stroke="#000" stroke-width="3.2" stroke-linecap="butt"/>
<line x1="659.30" y1="2239.50" x2="659.30" y2="2257.00" stroke="#000" stroke-width="3.4" stroke-linecap="butt"/>
<text transform="translate(90.03,1815.90) scale(0.7660,1)" font-size="33.00" font-weight="bold" fill="#000">8</text>
<text transform="translate(90.16,1924.75) scale(0.7660,1)" font-size="33.00" font-weight="bold" fill="#000">6</text>
<text transform="translate(89.40,2033.60) scale(0.7660,1)" font-size="33.00" font-weight="bold" fill="#000">4</text>
<text transform="translate(90.28,2142.45) scale(0.7660,1)" font-size="33.00" font-weight="bold" fill="#000">2</text>
<text transform="translate(90.28,2251.30) scale(0.7660,1)" font-size="33.00" font-weight="bold" fill="#000">0</text>
<text transform="translate(117.19,2293.20) scale(0.7660,1)" font-size="33.00" font-weight="bold" fill="#000">0</text>
<text transform="translate(294.54,2293.20) scale(0.7660,1)" font-size="33.00" font-weight="bold" fill="#000">1</text>
<text transform="translate(474.30,2293.20) scale(0.7660,1)" font-size="33.00" font-weight="bold" fill="#000">2</text>
<text transform="translate(652.41,2293.20) scale(0.7660,1)" font-size="33.00" font-weight="bold" fill="#000">3</text>
<polyline points="124.20,2047.50 302.00,2031.00 481.25,2011.25 659.30,2016.25" fill="none" stroke="#262626" stroke-width="2.0" stroke-linejoin="round"/>
<polyline points="124.20,2090.00 302.00,2008.70 481.25,1982.50 659.30,2006.25" fill="none" stroke="#262626" stroke-width="2.0" stroke-linejoin="round"/>
<line x1="124.20" y1="2010.50" x2="124.20" y2="2133.75" stroke="#111" stroke-width="1.9" stroke-linecap="butt"/>
<line x1="302.00" y1="1956.00" x2="302.00" y2="2062.30" stroke="#111" stroke-width="1.9" stroke-linecap="butt"/>
<line x1="481.25" y1="1954.25" x2="481.25" y2="2043.00" stroke="#111" stroke-width="1.9" stroke-linecap="butt"/>
<line x1="659.30" y1="1982.00" x2="659.30" y2="2051.25" stroke="#111" stroke-width="1.9" stroke-linecap="butt"/>
<line x1="118.70" y1="2010.50" x2="129.70" y2="2010.50" stroke="#111" stroke-width="2.2" stroke-linecap="butt"/>
<line x1="118.70" y1="2133.75" x2="129.70" y2="2133.75" stroke="#111" stroke-width="2.2" stroke-linecap="butt"/>
<line x1="296.50" y1="1956.00" x2="307.50" y2="1956.00" stroke="#111" stroke-width="2.2" stroke-linecap="butt"/>
<line x1="296.50" y1="2054.70" x2="307.50" y2="2054.70" stroke="#111" stroke-width="2.2" stroke-linecap="butt"/>
<line x1="296.50" y1="2062.30" x2="307.50" y2="2062.30" stroke="#111" stroke-width="2.2" stroke-linecap="butt"/>
<line x1="475.75" y1="1954.25" x2="486.75" y2="1954.25" stroke="#111" stroke-width="2.2" stroke-linecap="butt"/>
<line x1="475.75" y1="2043.00" x2="486.75" y2="2043.00" stroke="#111" stroke-width="2.2" stroke-linecap="butt"/>
<line x1="653.80" y1="1982.00" x2="664.80" y2="1982.00" stroke="#111" stroke-width="2.2" stroke-linecap="butt"/>
<line x1="653.80" y1="1997.50" x2="664.80" y2="1997.50" stroke="#111" stroke-width="2.2" stroke-linecap="butt"/>
<line x1="653.80" y1="2051.25" x2="664.80" y2="2051.25" stroke="#111" stroke-width="2.2" stroke-linecap="butt"/>
<ellipse cx="124.20" cy="2090.00" rx="5.50" ry="6.65" fill="#000"/>
<ellipse cx="302.00" cy="2008.70" rx="5.50" ry="6.65" fill="#000"/>
<ellipse cx="481.25" cy="1982.50" rx="5.50" ry="6.65" fill="#000"/>
<ellipse cx="659.30" cy="2006.25" rx="5.50" ry="6.65" fill="#000"/>
<rect x="118.60" y="2040.25" width="11.20" height="14.50" fill="#000"/>
<rect x="296.40" y="2023.75" width="11.20" height="14.50" fill="#000"/>
<rect x="475.65" y="2004.00" width="11.20" height="14.50" fill="#000"/>
<rect x="653.70" y="2009.00" width="11.20" height="14.50" fill="#000"/>
<text transform="translate(176.31,1747.00) scale(0.8223,1)" font-size="42.00" font-weight="bold" fill="#000" stroke="#000" stroke-width="0.5" stroke-linejoin="round">Female food consumption</text>
<text transform="translate(23.88,1765.10) scale(0.7604,1)" font-size="69.13" font-weight="bold" fill="#000" stroke="#000" stroke-width="1.6" stroke-linejoin="round">E</text>
<text transform="translate(71.70,2078.45) rotate(-90) scale(1.1935,1)" font-size="30.28" font-weight="bold" fill="#000">Grams</text>
<text transform="translate(346.37,2347.40) scale(0.7799,1)" font-size="38.00" font-weight="bold" fill="#000">Month</text>
<line x1="133.75" y1="2394.50" x2="171.25" y2="2394.50" stroke="#111" stroke-width="2.2" stroke-linecap="butt"/>
<rect x="147.50" y="2387.25" width="11.20" height="14.50" fill="#000"/>
<text transform="translate(192.54,2408.00) scale(0.8123,1)" font-size="36.00" font-weight="normal" fill="#1c1c1c">Control</text>
<line x1="503.75" y1="2394.50" x2="541.25" y2="2394.50" stroke="#111" stroke-width="2.2" stroke-linecap="butt"/>
<ellipse cx="522.30" cy="2394.50" rx="5.50" ry="6.50" fill="#000"/>
<text transform="translate(562.53,2408.00) scale(0.8180,1)" font-size="36.00" font-weight="normal" fill="#1c1c1c">Cocktail</text>
<line x1="912.20" y1="1802.40" x2="912.20" y2="2257.00" stroke="#000" stroke-width="3.4" stroke-linecap="butt"/>
<line x1="910.50" y1="2239.50" x2="1448.30" y2="2239.50" stroke="#000" stroke-width="3.4" stroke-linecap="butt"/>
<line x1="897.50" y1="1804.00" x2="912.20" y2="1804.00" stroke="#000" stroke-width="3.2" stroke-linecap="butt"/>
<line x1="897.50" y1="1912.85" x2="912.20" y2="1912.85" stroke="#000" stroke-width="3.2" stroke-linecap="butt"/>
<line x1="897.50" y1="2021.70" x2="912.20" y2="2021.70" stroke="#000" stroke-width="3.2" stroke-linecap="butt"/>
<line x1="897.50" y1="2130.55" x2="912.20" y2="2130.55" stroke="#000" stroke-width="3.2" stroke-linecap="butt"/>
<line x1="897.50" y1="2239.40" x2="912.20" y2="2239.40" stroke="#000" stroke-width="3.2" stroke-linecap="butt"/>
<line x1="912.20" y1="2239.50" x2="912.20" y2="2257.00" stroke="#000" stroke-width="3.2" stroke-linecap="butt"/>
<line x1="1089.25" y1="2239.50" x2="1089.25" y2="2257.00" stroke="#000" stroke-width="3.2" stroke-linecap="butt"/>
<line x1="1268.25" y1="2239.50" x2="1268.25" y2="2257.00" stroke="#000" stroke-width="3.2" stroke-linecap="butt"/>
<line x1="1446.50" y1="2239.50" x2="1446.50" y2="2257.00" stroke="#000" stroke-width="3.4" stroke-linecap="butt"/>
<text transform="translate(877.23,1815.90) scale(0.7660,1)" font-size="33.00" font-weight="bold" fill="#000">8</text>
<text transform="translate(877.36,1924.75) scale(0.7660,1)" font-size="33.00" font-weight="bold" fill="#000">6</text>
<text transform="translate(876.60,2033.60) scale(0.7660,1)" font-size="33.00" font-weight="bold" fill="#000">4</text>
<text transform="translate(877.48,2142.45) scale(0.7660,1)" font-size="33.00" font-weight="bold" fill="#000">2</text>
<text transform="translate(877.48,2251.30) scale(0.7660,1)" font-size="33.00" font-weight="bold" fill="#000">0</text>
<text transform="translate(905.19,2293.20) scale(0.7660,1)" font-size="33.00" font-weight="bold" fill="#000">0</text>
<text transform="translate(1081.79,2293.20) scale(0.7660,1)" font-size="33.00" font-weight="bold" fill="#000">1</text>
<text transform="translate(1261.30,2293.20) scale(0.7660,1)" font-size="33.00" font-weight="bold" fill="#000">2</text>
<text transform="translate(1439.61,2293.20) scale(0.7660,1)" font-size="33.00" font-weight="bold" fill="#000">3</text>
<polyline points="912.20,1957.50 1089.25,1950.00 1268.25,1955.00 1446.50,1976.25" fill="none" stroke="#262626" stroke-width="2.0" stroke-linejoin="round"/>
<polyline points="912.20,2051.25 1089.25,1945.00 1268.25,1955.00 1446.50,1942.50" fill="none" stroke="#262626" stroke-width="2.0" stroke-linejoin="round"/>
<line x1="912.20" y1="1929.25" x2="912.20" y2="2077.00" stroke="#111" stroke-width="1.9" stroke-linecap="butt"/>
<line x1="1089.25" y1="1901.75" x2="1089.25" y2="1997.00" stroke="#111" stroke-width="1.9" stroke-linecap="butt"/>
<line x1="1268.25" y1="1910.75" x2="1268.25" y2="1999.50" stroke="#111" stroke-width="1.9" stroke-linecap="butt"/>
<line x1="1446.50" y1="1867.00" x2="1446.50" y2="2025.00" stroke="#111" stroke-width="1.9" stroke-linecap="butt"/>
<line x1="906.70" y1="1929.25" x2="917.70" y2="1929.25" stroke="#111" stroke-width="2.2" stroke-linecap="butt"/>
<line x1="906.70" y1="1984.50" x2="917.70" y2="1984.50" stroke="#111" stroke-width="2.2" stroke-linecap="butt"/>
<line x1="906.70" y1="2023.75" x2="917.70" y2="2023.75" stroke="#111" stroke-width="2.2" stroke-linecap="butt"/>
<line x1="906.70" y1="2077.00" x2="917.70" y2="2077.00" stroke="#111" stroke-width="2.2" stroke-linecap="butt"/>
<line x1="1083.75" y1="1901.75" x2="1094.75" y2="1901.75" stroke="#111" stroke-width="2.2" stroke-linecap="butt"/>
<line x1="1083.75" y1="1987.00" x2="1094.75" y2="1987.00" stroke="#111" stroke-width="2.2" stroke-linecap="butt"/>
<line x1="1083.75" y1="1997.00" x2="1094.75" y2="1997.00" stroke="#111" stroke-width="2.2" stroke-linecap="butt"/>
<line x1="1262.75" y1="1910.75" x2="1273.75" y2="1910.75" stroke="#111" stroke-width="2.2" stroke-linecap="butt"/>
<line x1="1262.75" y1="1916.25" x2="1273.75" y2="1916.25" stroke="#111" stroke-width="2.2" stroke-linecap="butt"/>
<line x1="1262.75" y1="1992.50" x2="1273.75" y2="1992.50" stroke="#111" stroke-width="2.2" stroke-linecap="butt"/>
<line x1="1262.75" y1="1999.50" x2="1273.75" y2="1999.50" stroke="#111" stroke-width="2.2" stroke-linecap="butt"/>
<line x1="1441.00" y1="1867.00" x2="1452.00" y2="1867.00" stroke="#111" stroke-width="2.2" stroke-linecap="butt"/>
<line x1="1441.00" y1="1926.25" x2="1452.00" y2="1926.25" stroke="#111" stroke-width="2.2" stroke-linecap="butt"/>
<line x1="1441.00" y1="2018.75" x2="1452.00" y2="2018.75" stroke="#111" stroke-width="2.2" stroke-linecap="butt"/>
<line x1="1441.00" y1="2025.00" x2="1452.00" y2="2025.00" stroke="#111" stroke-width="2.2" stroke-linecap="butt"/>
<ellipse cx="912.20" cy="2051.25" rx="5.50" ry="6.65" fill="#000"/>
<ellipse cx="1089.25" cy="1945.00" rx="5.50" ry="6.65" fill="#000"/>
<ellipse cx="1268.25" cy="1955.00" rx="5.50" ry="6.65" fill="#000"/>
<ellipse cx="1446.50" cy="1942.50" rx="5.50" ry="6.65" fill="#000"/>
<rect x="906.60" y="1950.25" width="11.20" height="14.50" fill="#000"/>
<rect x="1083.65" y="1942.75" width="11.20" height="14.50" fill="#000"/>
<rect x="1262.65" y="1947.75" width="11.20" height="14.50" fill="#000"/>
<rect x="1440.90" y="1969.00" width="11.20" height="14.50" fill="#000"/>
<text transform="translate(984.50,1747.00) scale(0.8247,1)" font-size="42.00" font-weight="bold" fill="#000" stroke="#000" stroke-width="0.5" stroke-linejoin="round">Male food consumption</text>
<text transform="translate(810.78,1765.10) scale(0.6851,1)" font-size="67.83" font-weight="bold" fill="#000" stroke="#000" stroke-width="1.6" stroke-linejoin="round">F</text>
<text transform="translate(859.00,2078.45) rotate(-90) scale(1.2048,1)" font-size="30.00" font-weight="bold" fill="#000">Grams</text>
<text transform="translate(1133.57,2347.40) scale(0.7808,1)" font-size="38.00" font-weight="bold" fill="#000">Month</text>
<line x1="921.25" y1="2394.50" x2="958.75" y2="2394.50" stroke="#111" stroke-width="2.2" stroke-linecap="butt"/>
<rect x="934.40" y="2387.25" width="11.20" height="14.50" fill="#000"/>
<text transform="translate(980.04,2408.00) scale(0.8123,1)" font-size="36.00" font-weight="normal" fill="#1c1c1c">Control</text>
<line x1="1291.00" y1="2394.50" x2="1329.00" y2="2394.50" stroke="#111" stroke-width="2.2" stroke-linecap="butt"/>
<ellipse cx="1309.30" cy="2394.50" rx="5.50" ry="6.50" fill="#000"/>
<text transform="translate(1349.02,2408.00) scale(0.8236,1)" font-size="36.00" font-weight="normal" fill="#1c1c1c">Cocktail</text>
</svg>
</body></html>
